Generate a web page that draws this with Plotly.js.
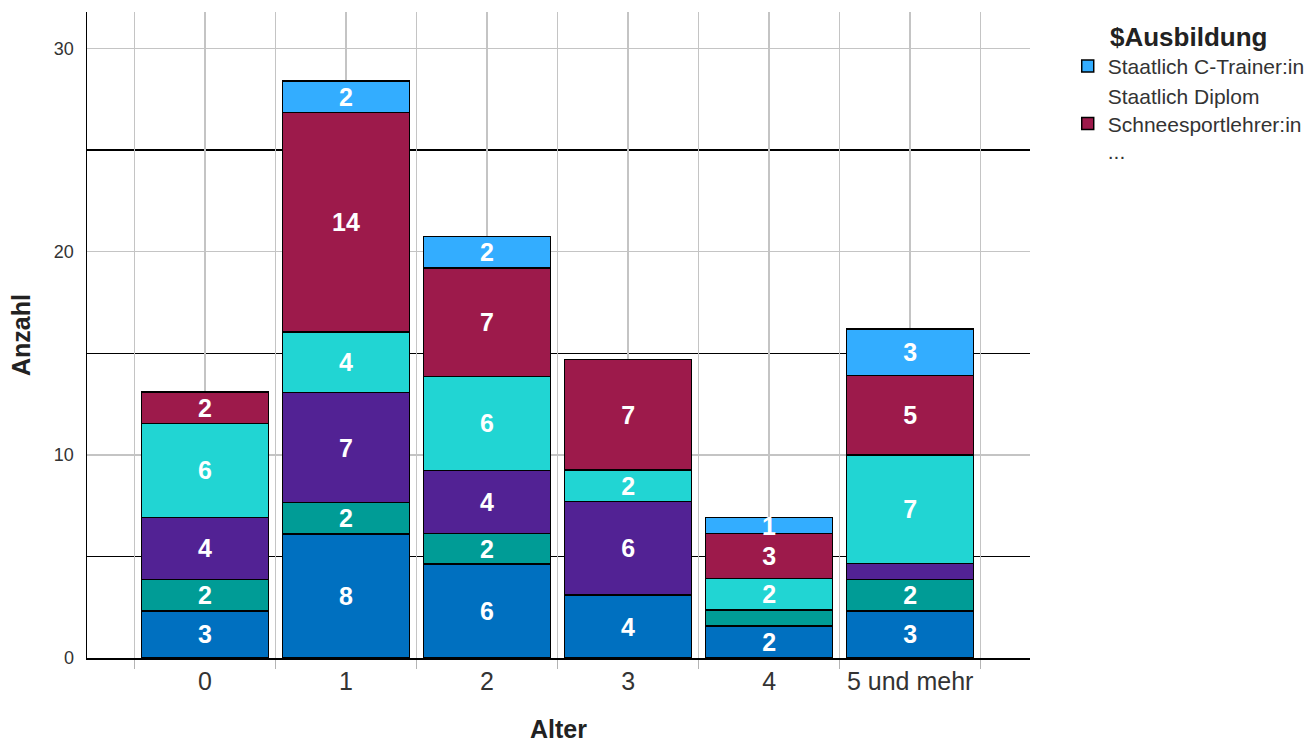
<!DOCTYPE html>
<html>
<head>
<meta charset="utf-8">
<script src="https://cdn.plot.ly/plotly-3.0.1.min.js"></script>
<style>html,body{margin:0;padding:0;background:#fff;}#chart{width:1305px;height:743px;}</style>
</head>
<body>
<div id="chart"></div>
<script>
// Categories (Alter)
const categories = ['0', '1', '2', '3', '4', '5 und mehr'];

// Series names (bottom to top of each stack)
const seriesNames = [
  'Ausbildung A',
  'Ausbildung B',
  'Ausbildung C',
  'Ausbildung D',
  'Staatlich Diplom<br>Schneesportlehrer:in<br>...',
  'Staatlich C-Trainer:in'
];

// Bar segment heights as drawn (axis "Anzahl")
const hBlue      = [2.32, 6.11, 4.63, 3.10, 1.58, 2.32];
const hTeal      = [1.55, 1.55, 1.50, null, 0.78, 1.55];
const hPurple    = [3.05, 5.40, 3.10, 4.60, null, 0.78];
const hCyan      = [4.63, 3.00, 4.63, 1.55, 1.55, 5.35];
const hMagenta   = [1.55, 10.80, 5.35, 5.45, 2.22, 3.90];
const hLightBlue = [null, 1.55, 1.55, null, 0.78, 2.30];

// Segment labels (counts as printed)
const lBlue      = ['3', '8', '6', '4', '2', '3'];
const lTeal      = ['2', '2', '2', '', '', '2'];
const lPurple    = ['4', '7', '4', '6', '', ''];
const lCyan      = ['6', '4', '6', '2', '2', '7'];
const lMagenta   = ['2', '14', '7', '7', '3', '5'];
const lLightBlue = ['', '2', '2', '', '1', '3'];

const colors = ['#0070C0', '#009C96', '#522294', '#21D5D3', '#9D1A4B', '#33ADFF'];
const heights = [hBlue, hTeal, hPurple, hCyan, hMagenta, hLightBlue];
const labels = [lBlue, lTeal, lPurple, lCyan, lMagenta, lLightBlue];
const inLegend = [false, false, false, false, true, true];

const FONT = 'Liberation Sans, Arial, sans-serif';

const traces = heights.map((h, i) => ({
  type: 'bar',
  name: seriesNames[i],
  x: categories,
  y: h,
  text: labels[i],
  textposition: 'inside',
  insidetextanchor: 'middle',
  textangle: 0,
  constraintext: 'none',
  insidetextfont: {color: '#ffffff', size: 25, family: FONT, weight: 'bold'},
  marker: {color: colors[i], line: {color: '#000000', width: 1.5}},
  width: 0.9,
  showlegend: inLegend[i],
  hoverinfo: 'x+y+name'
}));

// dummy trace for the second (center-grid) x axis
traces.push({
  type: 'scatter', mode: 'markers', x: categories, y: categories.map(() => null),
  xaxis: 'x2', yaxis: 'y', showlegend: false, hoverinfo: 'skip'
});

const layout = {
  width: 1305, height: 743,
  margin: {l: 87, r: 275, t: 12, b: 85, autoexpand: false},
  paper_bgcolor: '#ffffff', plot_bgcolor: '#ffffff',
  barmode: 'stack',
  bargap: 0.1,
  font: {family: FONT, color: '#222222'},
  xaxis: {
    type: 'category',
    categoryorder: 'array', categoryarray: categories,
    range: [-0.837, 5.85],
    tickson: 'boundaries',
    showgrid: true, gridcolor: '#c4c4c4', gridwidth: 1.5,
    ticks: 'outside', ticklen: 9, tickcolor: '#b4b4b4', tickwidth: 1.5,
    showline: true, linecolor: '#000000', linewidth: 1.5,
    zeroline: false,
    tickfont: {size: 25, color: '#333333', family: FONT},
    title: {text: 'Alter', font: {size: 25, color: '#222222', family: FONT, weight: 'bold'}, standoff: 36}
  },
  xaxis2: {
    type: 'category', overlaying: 'x',
    categoryorder: 'array', categoryarray: categories,
    range: [-0.837, 5.85],
    showgrid: true, gridcolor: '#c4c4c4', gridwidth: 1.5,
    showticklabels: false, ticks: '', showline: false, zeroline: false
  },
  yaxis: {
    range: [0, 31.8],
    tick0: 0, dtick: 10,
    showgrid: true, gridcolor: '#c4c4c4', gridwidth: 1.5,
    minor: {tick0: 5, dtick: 10, showgrid: true, gridcolor: '#000000', gridwidth: 1.3, ticks: ''},
    showline: true, linecolor: '#000000', linewidth: 1.5,
    zeroline: false,
    ticks: '',
    ticklabelstandoff: 8,
    tickfont: {size: 18, color: '#333333', family: FONT},
    title: {text: 'Anzahl', font: {size: 25, color: '#222222', family: FONT, weight: 'bold'}, standoff: 16}
  },
  legend: {
    x: 1.04, xanchor: 'left', y: 1.0, yanchor: 'top',
    traceorder: 'reversed',
    font: {size: 21, color: '#333333', family: FONT},
    title: {text: '$Ausbildung', side: 'top center', font: {size: 26, color: '#222222', family: FONT, weight: 'bold'}},
    itemclick: false, tracegroupgap: 0
  }
};

Plotly.newPlot('chart', traces, layout, {displayModeBar: false, staticPlot: true});
</script>
</body>
</html>
